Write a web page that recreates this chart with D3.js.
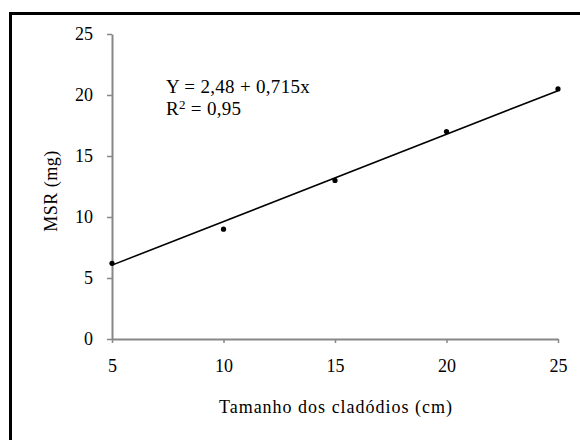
<!DOCTYPE html>
<html>
<head>
<meta charset="utf-8">
<script src="https://cdn.jsdelivr.net/npm/d3@7"></script>
<style>
  body { margin: 0; background: #fff; }
  text { font-family: "Liberation Serif", "Times New Roman", serif; }
</style>
</head>
<body>
<div id="container"></div>
<script>
// data
let tamanho = [5, 10, 15, 20, 25];
let msr = [6.2, 9.0, 13.0, 17.0, 20.5];
let xTicks = [5, 10, 15, 20, 25];
let yTicks = [0, 5, 10, 15, 20, 25];
let intercept = 2.48;
let slope = 0.715;

let w = 580;
let h = 440;

let viz = d3.select("#container")
  .append("svg")
    .attr("width", w)
    .attr("height", h)
    .style("display", "block");

// frame (cut off at right and bottom like the original)
viz.append("rect")
  .attr("x", 10.5)
  .attr("y", 13.5)
  .attr("width", w)
  .attr("height", h)
  .attr("fill", "none")
  .attr("stroke", "black")
  .attr("stroke-width", 3);

let xScale = d3.scaleLinear().domain([5, 25]).range([112, 558]);
let yScale = d3.scaleLinear().domain([0, 25]).range([339, 34]);

let axisColor = "#878787";

// y axis
let yAxis = viz.append("g")
  .attr("transform", "translate(" + xScale(5) + ",0)")
  .call(d3.axisLeft(yScale).tickValues(yTicks).tickSize(5).tickSizeOuter(0).tickPadding(14));

// x axis
let xAxis = viz.append("g")
  .attr("transform", "translate(0," + yScale(0) + ")")
  .call(d3.axisBottom(xScale).tickValues(xTicks).tickSize(4).tickSizeOuter(0).tickPadding(16));

[xAxis, yAxis].forEach(function(a) {
  a.attr("font-family", null);
  a.select(".domain").attr("stroke", axisColor).attr("stroke-width", 2);
  a.selectAll(".tick line").attr("stroke", axisColor).attr("stroke-width", 1.5);
  a.selectAll(".tick text")
    .attr("fill", "black")
    .style("font-family", "'Liberation Serif', serif")
    .style("font-size", "18px");
});

// regression line
viz.append("line")
  .attr("x1", xScale(5))
  .attr("y1", yScale(intercept + slope * 5))
  .attr("x2", xScale(25))
  .attr("y2", yScale(intercept + slope * 25))
  .attr("stroke", "black")
  .attr("stroke-width", 1.6);

// points
viz.selectAll(".pt").data(tamanho).enter()
  .append("circle")
    .attr("class", "pt")
    .attr("cx", function(d) { return xScale(d); })
    .attr("cy", function(d, i) { return yScale(msr[i]); })
    .attr("r", 2.6)
    .attr("fill", "black");

// equation
viz.append("text")
  .attr("x", 166)
  .attr("y", 93)
  .style("font-size", "19px")
  .style("letter-spacing", "0.3px")
  .text("Y = 2,48 + 0,715x");

let r2 = viz.append("text")
  .attr("x", 166)
  .attr("y", 115)
  .style("font-size", "19px")
  .style("letter-spacing", "0.3px");
r2.append("tspan").text("R");
r2.append("tspan").attr("dy", -6).style("font-size", "13px").text("2");
r2.append("tspan").attr("dy", 6).text(" = 0,95");

// axis titles
viz.append("text")
  .attr("transform", "translate(57,191) rotate(-90)")
  .attr("text-anchor", "middle")
  .style("font-size", "18px")
  .style("letter-spacing", "0.5px")
  .text("MSR (mg)");

viz.append("text")
  .attr("x", 336)
  .attr("y", 413)
  .attr("text-anchor", "middle")
  .style("font-size", "18px")
  .style("letter-spacing", "1px")
  .text("Tamanho dos cladódios (cm)");
</script>
</body>
</html>
